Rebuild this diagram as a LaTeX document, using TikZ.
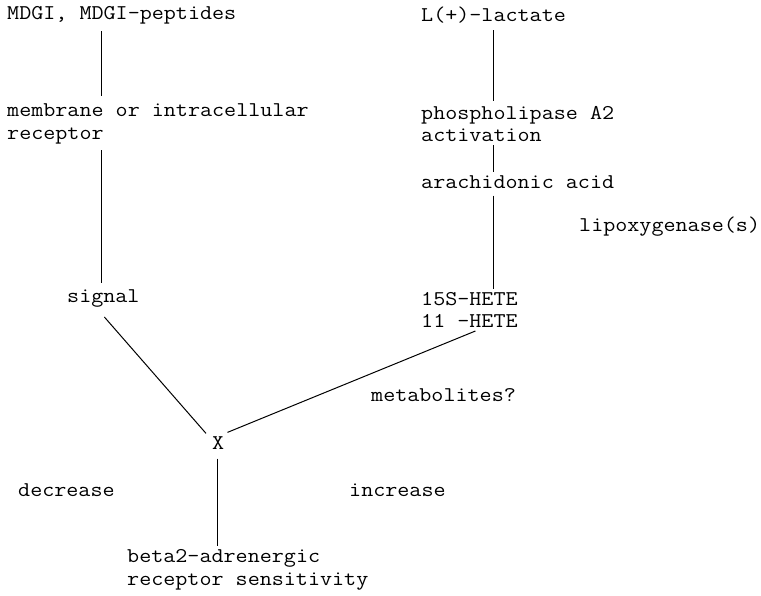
\documentclass[tikz,border=0pt]{standalone}
\usepackage{fontspec}
\setmonofont{Latin Modern Mono}[FakeStretch=1.115]
\begin{document}
\begin{tikzpicture}[x=1pt,y=-1pt,
  lbl/.style={anchor=west,inner sep=0pt,align=left,font=\ttfamily\fontsize{21}{22.5}\selectfont},
  conn/.style={line width=1pt,black}]
\useasboundingbox (0,0) rectangle (761,596);
\coordinate (xl) at (101,0);
\coordinate (xr) at (493,0);
\coordinate (xc) at (217,0);
\node[lbl] (mdgi) at (7,15) {MDGI, MDGI-peptides};
\node[lbl] (lact) at (421,15) {L(+)-lactate};
\node[lbl] (memb) at (7,124) {membrane or intracellular\\receptor};
\node[lbl] (pla) at (421,124) {phospholipase A2\\activation};
\node[lbl] (ara) at (421,182) {arachidonic acid};
\node[lbl] (lipo) at (579,227) {lipoxygenase(s)};
\node[lbl] (sig) at (67,298) {signal};
\node[lbl] (hete) at (421,310) {15S-HETE\\11 -HETE};
\node[lbl] (meta) at (371,395) {metabolites?};
\node[lbl] (X) at (212,443) {X};
\node[lbl] (dec) at (18,490) {decrease};
\node[lbl] (inc) at (349,490) {increase};
\node[lbl] (beta) at (127,570) {beta2-adrenergic\\receptor sensitivity};
\draw[conn] ([yshift=-7]mdgi.south -| xl) -- ([yshift=8]memb.north -| xl);
\draw[conn] ([yshift=-6]memb.south -| xl) -- ([yshift=6]sig.north -| xl);
\draw[conn] ([yshift=-7]lact.south -| xr) -- ([yshift=5]pla.north -| xr);
\draw[conn] ([yshift=-3]pla.south -| xr) -- ([yshift=3]ara.north -| xr);
\draw[conn] ([yshift=-7]ara.south -| xr) -- ([yshift=3]hete.north -| xr);
\draw[conn] ([shift={(1,10)}]sig.south) -- ([shift={(-6,-3)}]X.north west);
\draw[conn] ([shift={(6,3)}]hete.south) -- ([shift={(3,-4)}]X.north east);
\draw[conn] ([yshift=-9]X.south -| xc) -- ([yshift=4]beta.north -| xc);
\end{tikzpicture}
\end{document}
